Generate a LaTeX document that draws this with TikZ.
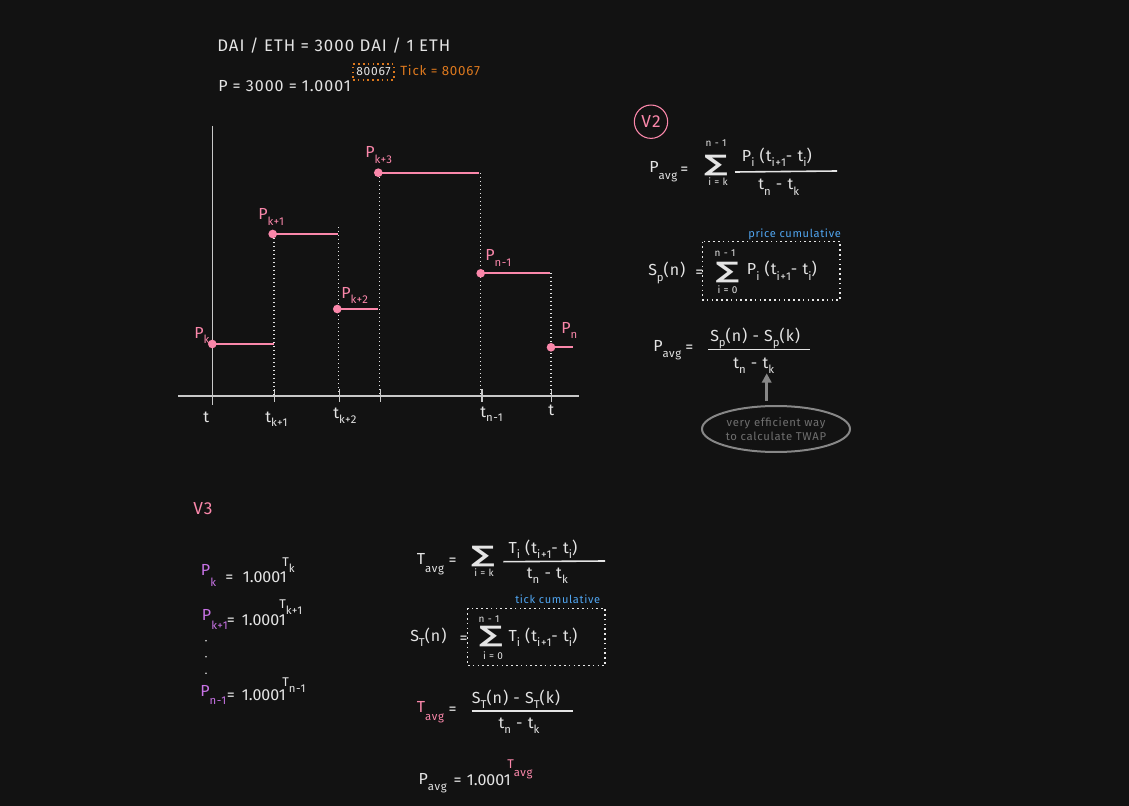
\documentclass[tikz,border=0pt]{standalone}
\usepackage{fontspec}
\setmainfont{Fira Sans}[LetterSpace=6]
\newfontfamily\numfont{Fira Sans}
\newfontfamily\symfont{DejaVu Sans}
\usetikzlibrary{arrows.meta,shapes.geometric}

\definecolor{bgdark}{RGB}{18,18,18}
\definecolor{fgwhite}{RGB}{228,228,228}
\definecolor{pinkc}{RGB}{250,135,170}
\definecolor{violetc}{RGB}{200,115,230}
\definecolor{orangec}{RGB}{220,120,30}
\definecolor{bluec}{RGB}{80,165,240}
\definecolor{greyc}{RGB}{135,135,135}
\definecolor{axisc}{RGB}{200,200,200}

\newcommand{\subtxt}[2][4]{\raisebox{-#1pt}{\fontsize{8.5}{9}\selectfont #2}}
\newcommand{\sumglyph}{\scalebox{1.45}[1]{∑}}

\begin{document}
\begin{tikzpicture}[
  x=0.75pt, y=-0.75pt,
  txt/.style={text=fgwhite, font=\fontsize{12}{14}\selectfont, inner sep=0pt, anchor=base west},
  numtxt/.style={txt, font=\numfont\fontsize{12}{14}\selectfont},
  pinktxt/.style={txt, text=pinkc},
  violettxt/.style={txt, text=violetc},
  exptxt/.style={txt, font=\fontsize{9.5}{11}\selectfont},
  limtxt/.style={text=fgwhite, font=\fontsize{7.5}{9}\selectfont, inner sep=0pt},
  notetxt/.style={font=\fontsize{8.3}{10}\selectfont, inner sep=0pt, anchor=base west},
  sumsym/.style={text=fgwhite, font=\symfont\bfseries\fontsize{17}{17}\selectfont, inner sep=0pt},
  dot/.style={circle, fill=pinkc, minimum size=6.5pt, inner sep=0pt},
  stepline/.style={pinkc, line width=1.3pt},
  axis/.style={axisc, line width=1pt},
  guide/.style={fgwhite, line width=0.9pt, dash pattern=on 1pt off 2pt},
  fracline/.style={fgwhite, line width=1.2pt},
  dotbox/.style={draw=fgwhite!85, line width=1.1pt, dash pattern=on 1.2pt off 2.4pt},
  greyarrow/.style={-{Triangle[length=7pt, width=7pt]}, greyc, line width=2pt},
]
\useasboundingbox (0,0) rectangle (1129,806);
\fill[bgdark] (0,0) rectangle (1129,806);

%% Header
\node[txt, font=\fontsize{12.6}{14}\selectfont] (ttl) at (217,51.5) {DAI / ETH = 3000 DAI / 1 ETH};
\node[txt] (pexp) at (218,91.5) {P = 3000 = 1.0001};
\node[dotbox, draw=orangec, text=fgwhite, font=\fontsize{9}{10}\selectfont,
  minimum width=30.75pt, minimum height=12pt, inner sep=1pt] (tickv) at (373.5,72) {80067};
\node[notetxt, text=orangec, font=\fontsize{10}{11}\selectfont] (ticklbl) at (400,76) {Tick = 80067};

%% Axes
\draw[axis] (212.7,126) -- (212.7,405);
\draw[axis] (178,396) -- (579,396);
\foreach \tx in {274.3,339.3,380.7,482,551.7}
  \draw[axis] (\tx,389) -- (\tx,402);

%% Dotted guides
\foreach \gx/\gy in {274/234, 338.5/227, 379.5/173, 480.5/173, 551/273}
  \draw[guide] (\gx,\gy) -- (\gx,396);

%% Price steps
\foreach \nm/\px/\py/\len in {pk/212.3/344/62, pk1/272.7/234/65, pk2/337.3/309/41,
    pk3/378.3/172.7/101, pn1/480.7/273.3/69, pn/551/347.3/22}{
  \node[dot] (\nm) at (\px,\py) {};
  \draw[stepline] (\nm.center) -- ++(\len,0);
}

%% Price labels
\node[pinktxt] (lpk) at (194,338.5) {P\subtxt{k}};
\node[pinktxt] (lpk1) at (258,220) {P\subtxt{k+1}};
\node[pinktxt] (lpk2) at (341,298) {P\subtxt{k+2}};
\node[pinktxt] (lpk3) at (365,158) {P\subtxt{k+3}};
\node[pinktxt] (lpn1) at (485,261) {P\subtxt{n-1}};
\node[pinktxt] (lpn) at (561,333) {P\subtxt{n}};

%% Time labels
\node[txt] (lt0) at (203,422) {t};
\node[txt] (ltk1) at (265,422) {t\subtxt[3]{k+1}};
\node[txt] (ltk2) at (333,418) {t\subtxt{k+2}};
\node[txt] (ltn1) at (480,417) {t\subtxt[3]{n-1}};
\node[txt] (ltn) at (548,415) {t};

%% V2
\node[circle, draw=pinkc, thick, text=pinkc, minimum size=25pt, inner sep=0pt,
  font=\fontsize{13}{14}\selectfont] (vtwo) at (651,121.7) {V2};

\node[txt] (pavga) at (649,173) {P\subtxt[5]{avg}};
\node[txt] (eqa) at (680,175) {=};
\node[sumsym] (suma) at (716,166) {\sumglyph};
\node[limtxt] (topa) at (716,143.3) {n - 1};
\node[limtxt] (bota) at (718,181.7) {i = k};
\node[txt] (numa) at (741.7,161.5) {P\subtxt{i} (t\subtxt{i+1}- t\subtxt{i})};
\draw[fracline] (735,172) -- (837,171);
\node[txt] (dena) at (758,190) {t\subtxt{n} - t\subtxt{k}};

\node[notetxt, text=bluec] (pcum) at (748,238) {price cumulative};
\draw[dotbox] (702.7,241.7) rectangle (840,300);
\node[txt] (spn) at (648,276) {S\subtxt{p}(n)};
\node[txt] (eqb) at (695,277.5) {=};
\node[sumsym] (sumb) at (727.5,273) {\sumglyph};
\node[limtxt] (topb) at (725,253.3) {n - 1};
\node[limtxt] (botb) at (727.5,290) {i = 0};
\node[txt] (numb) at (746.7,275) {P\subtxt{i} (t\subtxt{i+1}- t\subtxt{i})};

\node[txt] (pavgc) at (653,351) {P\subtxt[5]{avg}};
\node[txt] (eqc) at (685,352.5) {=};
\node[txt] (numc) at (710,341) {S\subtxt{p}(n) - S\subtxt{p}(k)};
\draw[fracline] (708,349.3) -- (810,349.3);
\node[txt] (denc) at (733,368) {t\subtxt{n} - t\subtxt{k}};

\coordinate (twaptip) at (766.7,373.3);
\node[ellipse, draw=greyc, line width=1.5pt, minimum width=111pt, minimum height=34.5pt,
  text=greyc!120, font=\fontsize{8.5}{10}\selectfont, align=center, inner sep=0pt]
  (twap) at (776,429) {very efficient way\\to calculate TWAP};
\draw[greyarrow, shorten <=3pt] (twaptip |- twap.north) -- (twaptip);

%% V3
\node[pinktxt, font=\fontsize{13}{14}\selectfont] (vthree) at (193,514) {V3};

\node[violettxt] (vpk) at (200.7,575) {P\subtxt[8.5]{k}};
\node[txt] (eqk) at (225,582) {=};
\node[numtxt] (onek) at (242.7,582) {1.0001};
\node[exptxt] (expk) at (282,566) {T\subtxt[4.5]{k}};

\node[violettxt] (vpk1) at (201.7,620.5) {P\subtxt[7]{k+1}};
\node[txt] (eqk1) at (226.7,625) {=};
\node[numtxt] (onek1) at (241.7,625) {1.0001};
\node[exptxt] (expk1) at (279,608) {T\subtxt[5]{k+1}};

\foreach \dy in {640.7,656.7,673.3}
  \fill[fgwhite] (206,\dy) circle (0.7pt);

\node[violettxt] (vpn1) at (200,696) {P\subtxt[6.7]{n-1}};
\node[txt] (eqn1) at (226.7,700) {=};
\node[numtxt] (onen1) at (241.7,700) {1.0001};
\node[exptxt] (expn1) at (282,686) {T\subtxt[5]{n-1}};

%% Tick average
\node[txt] (tavga) at (416.7,564) {T\subtxt[6]{avg}};
\node[txt] (eqd) at (448.3,565.5) {=};
\node[sumsym] (sumd) at (483,556.7) {\sumglyph};
\node[limtxt] (botd) at (484,572.5) {i = k};
\node[txt] (numd) at (508.3,553) {T\subtxt{i} (t\subtxt{i+1}- t\subtxt{i})};
\draw[fracline] (503.3,561.7) -- (605,561);
\node[txt] (dend) at (526.7,578) {t\subtxt{n} - t\subtxt{k}};

\node[notetxt, text=bluec] (tcum) at (515,603) {tick cumulative};
\draw[dotbox] (467.7,608.3) rectangle (605,665.7);
\node[txt] (stn) at (410,641) {S\subtxt{T}(n)};
\node[txt] (eqe) at (459.3,643) {=};
\node[sumsym] (sume) at (491,637) {\sumglyph};
\node[limtxt] (tope) at (489,619.3) {n - 1};
\node[limtxt] (bote) at (493,656) {i = 0};
\node[txt] (nume) at (508.3,641) {T\subtxt{i} (t\subtxt{i+1}- t\subtxt{i})};

\node[pinktxt] (tavgf) at (416.7,712) {T\subtxt[6]{avg}};
\node[txt] (eqf) at (448.3,714) {=};
\node[txt] (numf) at (471.7,703) {S\subtxt{T}(n) - S\subtxt{T}(k)};
\draw[fracline] (471.7,711) -- (573.3,711);
\node[txt] (denf) at (498.3,728) {t\subtxt{n} - t\subtxt{k}};

\node[txt] (pavgg) at (418.3,784) {P\subtxt[5]{avg}};
\node[txt] (eqg) at (453.3,785) {=};
\node[numtxt] (oneg) at (466.7,785) {1.0001};
\node[exptxt, text=pinkc] (expg) at (507,768) {T\subtxt[6]{avg}};

\end{tikzpicture}
\end{document}
